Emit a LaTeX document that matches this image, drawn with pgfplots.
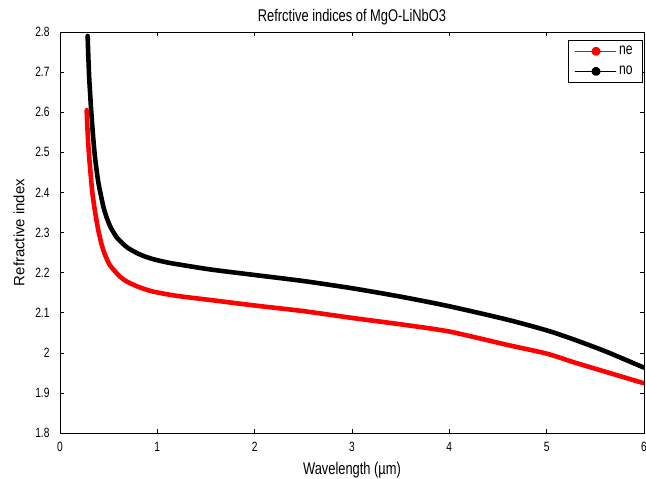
\documentclass[border=0pt]{standalone}
\usepackage{fontspec}
\setmainfont[FakeStretch=0.76]{Liberation Sans}
\newfontfamily\ylabfont{Liberation Sans}
\usepackage{pgfplots}
\pgfplotsset{compat=1.18}
\begin{document}
\begin{tikzpicture}
\useasboundingbox (-60bp,-46bp) rectangle (586bp,433bp);
\begin{axis}[
  at={(0,0)}, anchor=south west,
  scale only axis, width=584bp, height=401bp,
  xmin=0, xmax=6, ymin=1.8, ymax=2.8,
  xtick={0,1,2,3,4,5,6},
  ytick={1.8,1.9,2.0,2.1,2.2,2.3,2.4,2.5,2.6,2.7,2.8},
  yticklabels={1.8,1.9,2,2.1,2.2,2.3,2.4,2.5,2.6,2.7,2.8},
  tick align=inside, major tick length=4.5bp,
  tick style={black, line width=0.5pt},
  axis line style={line width=0.8pt},
  /pgf/number format/assume math mode=true,
  tick label style={font=\fontsize{13.5}{15}\selectfont},
  xticklabel style={yshift=-6bp},
  yticklabel style={xshift=-7bp},
  xlabel={Wavelength (µm)},
  ylabel={\ylabfont Refractive index},
  every axis x label/.style={at={(rel axis cs:0.5,0)}, anchor=base, yshift=-41bp,
     font=\fontsize{17}{19}\selectfont},
  every axis y label/.style={at={([xshift=-41bp]rel axis cs:0,0.5)}, anchor=center, rotate=90,
     font=\fontsize{15}{17}\selectfont},
  title={Refrctive indices of MgO-LiNbO3},
  every axis title/.style={at={(rel axis cs:0.5,1)}, anchor=base, yshift=10bp,
     font=\fontsize{17}{19}\selectfont},
  reverse legend,
  legend style={at={([xshift=-1bp,yshift=-8bp]rel axis cs:1,1)}, anchor=north east,
    font=\fontsize{16}{18}\selectfont, draw=black, line width=0.6pt,
    inner xsep=7bp, inner ysep=3bp, row sep=4bp,
    nodes={inner sep=3bp}},
  legend cell align=left,
  legend image code/.code={
    \draw[line width=0.4pt] (0bp,0bp) -- (41bp,0bp);
    \fill (21bp,0bp) circle (2.2bp);
  },
]
\addplot[black, line width=4.6pt, line join=round, line cap=round, smooth, tension=0.4] coordinates {
(0.284,2.79) (0.29,2.745) (0.30,2.685) (0.308,2.653) (0.32,2.605) (0.34,2.54)
(0.36,2.487) (0.394,2.425) (0.445,2.365) (0.48,2.337) (0.52,2.313) (0.582,2.288)
(0.62,2.278) (0.70,2.261) (0.822,2.245) (0.95,2.234) (1.13,2.224) (1.54,2.208)
(2.0,2.194) (2.5,2.179) (3.0,2.161) (3.5,2.14) (4.0,2.116) (4.59,2.083)
(5.0,2.056) (5.27,2.034) (5.6,2.004) (6.0,1.963)
};
\addlegendentry{no}
\addplot[red, line width=4.6pt, line join=round, line cap=round, smooth, tension=0.4] coordinates {
(0.274,2.605) (0.28,2.57) (0.29,2.522) (0.301,2.485) (0.33,2.405) (0.36,2.352)
(0.394,2.305) (0.43,2.268) (0.462,2.245) (0.514,2.218) (0.616,2.19) (0.685,2.178)
(0.80,2.165) (0.95,2.153) (1.2,2.142) (1.5,2.133) (2.0,2.118) (2.5,2.104)
(3.0,2.087) (3.5,2.071) (4.0,2.053) (4.59,2.02) (5.0,1.998) (5.27,1.977)
(5.6,1.953) (6.0,1.924)
};
\addlegendentry{ne}
\end{axis}
\end{tikzpicture}
\end{document}
